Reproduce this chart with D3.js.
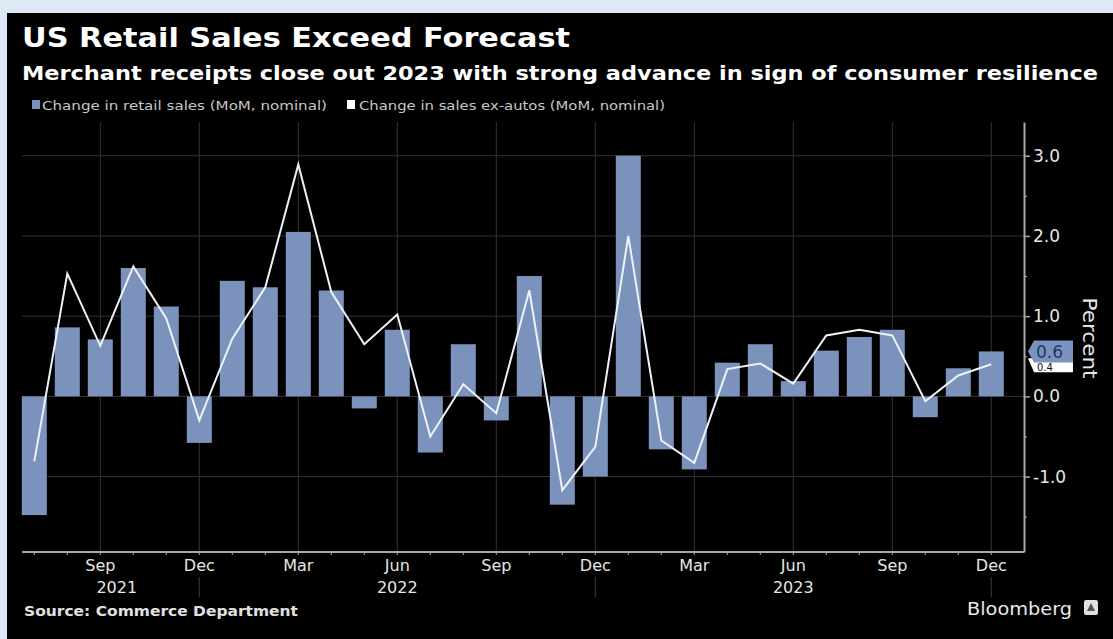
<!DOCTYPE html>
<html><head><meta charset="utf-8">
<script src="https://cdn.jsdelivr.net/npm/d3@7"></script>
<style>
body{margin:0;background:#dde9f6;}
svg{display:block;}
text{font-family:"DejaVu Sans","Noto Sans",sans-serif;}
</style>
</head><body>
<svg id="c" width="1113" height="639"></svg>
<script>
// ---------------- data ----------------
const months = ["2021-07","2021-08","2021-09","2021-10","2021-11","2021-12",
  "2022-01","2022-02","2022-03","2022-04","2022-05","2022-06",
  "2022-07","2022-08","2022-09","2022-10","2022-11","2022-12",
  "2023-01","2023-02","2023-03","2023-04","2023-05","2023-06",
  "2023-07","2023-08","2023-09","2023-10","2023-11","2023-12"];
const retailSales = [-1.48, 0.86, 0.71, 1.60, 1.12, -0.58, 1.44, 1.36, 2.05, 1.32, -0.15, 0.83,
  -0.70, 0.65, -0.30, 1.50, -1.35, -1.00, 3.00, -0.66, -0.91, 0.42, 0.65, 0.19,
  0.57, 0.74, 0.83, -0.26, 0.35, 0.56];
const exAutos = [-0.81, 1.53, 0.63, 1.62, 0.97, -0.30, 0.72, 1.36, 2.89, 1.30, 0.65, 1.02,
  -0.50, 0.15, -0.21, 1.32, -1.17, -0.63, 2.00, -0.55, -0.83, 0.34, 0.41, 0.16,
  0.76, 0.83, 0.76, -0.06, 0.26, 0.40];
const yTicks = [-1, 0, 1, 2, 3];
const yMinorTicks = [-1.5, -0.5, 0.5, 1.5, 2.5];
const quarterMonths = ["2021-09","2021-12","2022-03","2022-06","2022-09","2022-12",
  "2023-03","2023-06","2023-09","2023-12"];
const yearSeparators = ["2021-12","2022-12","2023-12"];
const yearLabels = ["2021","2022","2023"];
const yearAnchors = [["2021-09","2021-10"],["2022-06"],["2023-06"]];
const legendLabels = ["Change in retail sales (MoM, nominal)","Change in sales ex-autos (MoM, nominal)"];
const titleText = "US Retail Sales Exceed Forecast";
const subtitleText = "Merchant receipts close out 2023 with strong advance in sign of consumer resilience";
const sourceText = "Source: Commerce Department";
const axisTitle = "Percent";

// ---------------- setup ----------------
const svg = d3.select("#c");
const BAR = "#7b93bc", LINE = "#eef2f8", GRID = "#333", AXIS = "#a8a8a8", TXT = "#e6e6e6";
const L = 22, R = 1024, T = 122, B = 552;

svg.append("rect").attr("x",7).attr("y",13).attr("width",1106).attr("height",626).attr("fill","#000");

const x = d3.scaleBand().domain(months).range([21.8, 1003.8]).paddingInner(8/33).paddingOuter(0);
const bw = x.bandwidth();
const cx = m => x(m) + bw/2;
const y = d3.scaleLinear().domain([-1.94, 3.42]).range([B, T]);
const parse = d3.timeParse("%Y-%m");
const fmtMon = d3.timeFormat("%b");

// titles
svg.append("text").attr("x",22).attr("y",47).attr("fill","#fff").attr("font-weight","bold")
  .attr("font-size",27).attr("textLength",548).attr("lengthAdjust","spacingAndGlyphs").text(titleText);
svg.append("text").attr("x",22).attr("y",80).attr("fill","#fff").attr("font-weight","bold")
  .attr("font-size",19.5).attr("textLength",1076).attr("lengthAdjust","spacingAndGlyphs").text(subtitleText);

// legend
const lg = svg.append("g");
lg.append("rect").attr("x",32).attr("y",100).attr("width",8).attr("height",9).attr("fill",BAR);
lg.append("text").attr("x",42).attr("y",109.5).attr("fill","#c8c8c8").attr("font-size",12)
  .attr("textLength",285).attr("lengthAdjust","spacingAndGlyphs").text(legendLabels[0]);
lg.append("rect").attr("x",347).attr("y",100).attr("width",8).attr("height",9).attr("fill","#fff");
lg.append("text").attr("x",359).attr("y",109.5).attr("fill","#c8c8c8").attr("font-size",12)
  .attr("textLength",306).attr("lengthAdjust","spacingAndGlyphs").text(legendLabels[1]);

// gridlines
svg.append("g").selectAll("line").data(yTicks).join("line")
  .attr("x1",L).attr("x2",R).attr("y1",d=>y(d)).attr("y2",d=>y(d))
  .attr("stroke",GRID).attr("stroke-width",1);
svg.append("g").selectAll("line").data(quarterMonths).join("line")
  .attr("x1",d=>cx(d)).attr("x2",d=>cx(d)).attr("y1",T).attr("y2",B)
  .attr("stroke",GRID).attr("stroke-width",1);

// bars
svg.append("g").selectAll("rect").data(months).join("rect")
  .attr("x",d=>x(d)).attr("width",bw)
  .attr("y",(d,i)=>y(Math.max(0,retailSales[i])))
  .attr("height",(d,i)=>Math.abs(y(retailSales[i])-y(0)))
  .attr("fill",BAR);

// line
const line = d3.line().x((d,i)=>cx(months[i])).y(d=>y(d));
svg.append("path").datum(exAutos).attr("d",line).attr("fill","none")
  .attr("stroke",LINE).attr("stroke-width",2).attr("stroke-linejoin","miter");

// bottom axis
svg.append("line").attr("x1",L).attr("x2",R).attr("y1",B).attr("y2",B).attr("stroke",AXIS).attr("stroke-width",2);
const xAxis = svg.append("g").attr("transform",`translate(0,${B})`)
  .call(d3.axisBottom(x).tickSize(3).tickSizeOuter(0).tickFormat(""));
xAxis.select(".domain").remove();
xAxis.selectAll(".tick line").attr("stroke",AXIS);
svg.append("g").selectAll("text").data(quarterMonths).join("text")
  .attr("x",d=>cx(d)).attr("y",571).attr("text-anchor","middle").attr("fill",TXT)
  .attr("font-size",16).text(d=>fmtMon(parse(d)));
svg.append("g").selectAll("text").data(yearLabels).join("text")
  .attr("x",(d,i)=>d3.mean(yearAnchors[i],cx)).attr("y",593).attr("text-anchor","middle")
  .attr("fill",TXT).attr("font-size",16).text(d=>d);
svg.append("g").selectAll("line").data(yearSeparators).join("line")
  .attr("x1",d=>cx(d)).attr("x2",d=>cx(d)).attr("y1",577).attr("y2",597)
  .attr("stroke","#3a3a3a").attr("stroke-width",1);

// right axis
const yAxis = svg.append("g").attr("transform",`translate(${R},0)`)
  .call(d3.axisRight(y).tickValues(yTicks).tickSize(6).tickSizeOuter(0).tickPadding(3)
    .tickFormat(d=>d.toFixed(1)));
yAxis.select(".domain").attr("stroke",AXIS).attr("stroke-width",2);
yAxis.selectAll(".tick line").attr("stroke",AXIS).attr("stroke-width",1.5);
yAxis.selectAll(".tick text").attr("fill",TXT).attr("font-size",17)
  .attr("font-family","DejaVu Sans, sans-serif");
const yMinor = svg.append("g").attr("transform",`translate(${R},0)`)
  .call(d3.axisRight(y).tickValues(yMinorTicks).tickSize(3).tickFormat(""));
yMinor.select(".domain").remove();
yMinor.selectAll(".tick line").attr("stroke",AXIS);

svg.append("text").attr("transform","translate(1083,338) rotate(90)").attr("text-anchor","middle")
  .attr("fill",TXT).attr("font-size",19).attr("textLength",81).attr("lengthAdjust","spacingAndGlyphs")
  .text(axisTitle);

// last-value labels
const lastLine = exAutos[exAutos.length-1], lastBar = retailSales[retailSales.length-1];
// ex-autos label (white, mostly tucked under the bar label)
{
  const cy = y(lastLine) + 1, x0 = R + 4, x1 = R + 49, h = 14;
  svg.append("path").attr("d",`M${x0},${cy-h/2} L${x1},${cy-h/2} L${x1},${cy+h/2} L${x0+6},${cy+h/2} Z`)
    .attr("fill","#ffffff");
  svg.append("text").attr("x",x0+9).attr("y",cy+6).attr("fill","#111").attr("font-size",10)
    .text(lastLine.toFixed(1));
}
// retail sales label (blue)
{
  const cy = y(lastBar), x0 = R + 4, x1 = R + 49, h = 22;
  svg.append("path").attr("d",`M${x0},${cy} L${x0+6},${cy-h/2} L${x1},${cy-h/2} L${x1},${cy+h/2} L${x0+6},${cy+h/2} Z`)
    .attr("fill",BAR);
  svg.append("text").attr("x",x0+8).attr("y",cy+6.5).attr("fill","#1c3966").attr("font-size",17)
    .text(lastBar.toFixed(1));
}

// footer
svg.append("text").attr("x",24).attr("y",616).attr("fill","#e0e0e0").attr("font-weight","bold")
  .attr("font-size",13.5).attr("textLength",274).attr("lengthAdjust","spacingAndGlyphs").text(sourceText);
svg.append("text").attr("x",967).attr("y",615).attr("fill","#e8e8e8").attr("font-size",18)
  .attr("textLength",105).attr("lengthAdjust","spacingAndGlyphs").text("Bloomberg");
svg.append("rect").attr("x",1084).attr("y",600).attr("width",14).attr("height",15).attr("rx",2).attr("fill","#e0e0e0");
svg.append("path").attr("d","M1087,611 L1091,603 L1095,611 Z").attr("fill","#555");
</script>
</body></html>
